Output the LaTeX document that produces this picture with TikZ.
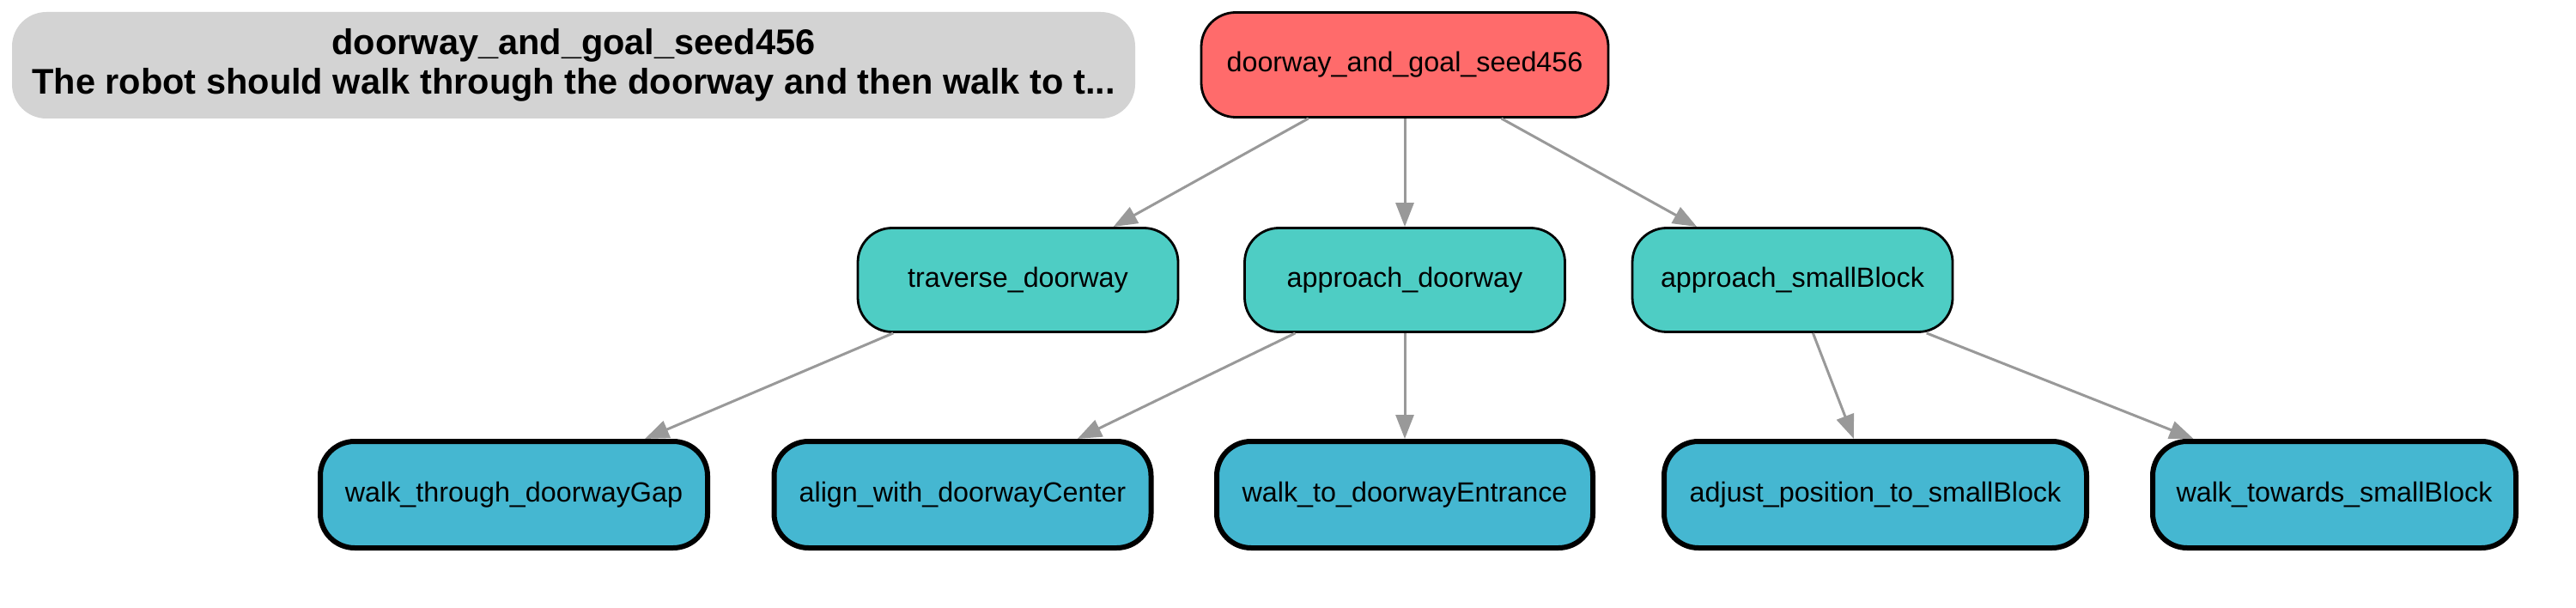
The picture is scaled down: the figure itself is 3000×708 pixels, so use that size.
\documentclass[tikz,border=0pt]{standalone}
\usepackage{fontspec}
\setmainfont{Liberation Sans}
\usetikzlibrary{arrows.meta}
\definecolor{rootc}{HTML}{FF6B6B}
\definecolor{midc}{HTML}{4ECDC4}
\definecolor{leafc}{HTML}{45B7D1}
\definecolor{titlec}{HTML}{D3D3D3}
\definecolor{edgec}{HTML}{999999}
\begin{document}
\begin{tikzpicture}[x=1pt,y=-1pt,
  box/.style={rectangle, rounded corners=40pt, inner sep=0pt, font=\fontsize{32.3}{38}\selectfont, text=black},
  rootbox/.style={box, draw=black, line width=2.8pt, fill=rootc, minimum height=122pt},
  midbox/.style={box, draw=black, line width=2.8pt, fill=midc, minimum width=373pt, minimum height=121pt},
  leafbox/.style={box, draw=black, line width=6pt, fill=leafc, minimum height=124pt},
  titlebox/.style={rectangle, rounded corners=40pt, fill=titlec, inner sep=0pt, minimum width=1308pt, minimum height=124pt, align=center, font=\bfseries\fontsize{41.5}{46}\selectfont},
  edge/.style={draw=edgec, line width=3pt, -{Triangle[length=28pt,width=21pt]}}]
\useasboundingbox (0,0) rectangle (3000,708);
\node[titlebox] (title) at (668,76) {doorway\_and\_goal\_seed456\\The robot should walk through the doorway and then walk to t...};
\node[rootbox, minimum width=474pt] (root) at (1636,75.5) {doorway\_and\_goal\_seed456};
\node[midbox] (trav) at (1185.5,326) {traverse\_doorway};
\node[midbox] (appd) at (1636,326) {approach\_doorway};
\node[midbox] (apps) at (2087.5,326) {approach\_smallBlock};
\node[leafbox, minimum width=451pt] (wtg) at (598.5,576) {walk\_through\_doorwayGap};
\node[leafbox, minimum width=439pt] (awc) at (1121,576) {align\_with\_doorwayCenter};
\node[leafbox, minimum width=438pt] (wte) at (1636,576) {walk\_to\_doorwayEntrance};
\node[leafbox, minimum width=492pt] (aps) at (2184,576) {adjust\_position\_to\_smallBlock};
\node[leafbox, minimum width=423pt] (wts) at (2718.5,576) {walk\_towards\_smallBlock};
\draw[edge] (root) -- (trav);
\draw[edge] (root) -- (appd);
\draw[edge] (root) -- (apps);
\draw[edge] (trav) -- (wtg);
\draw[edge] (appd) -- (awc);
\draw[edge] (appd) -- (wte);
\draw[edge] (apps) -- (aps);
\draw[edge] (apps) -- (wts);
\end{tikzpicture}
\end{document}
